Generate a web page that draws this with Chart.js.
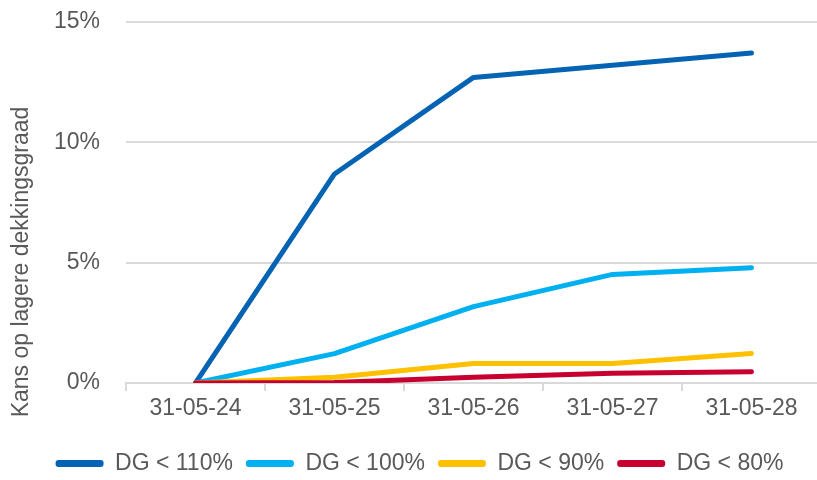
<!DOCTYPE html>
<html lang="nl">
  <head>
    <meta charset="UTF-8" />
    <title>Kans op lagere dekkingsgraad</title>
    <style>
      html, body {
        margin: 0;
        padding: 0;
        background: #fff;
        overflow: hidden;
      }
      .chart-container {
        position: relative;
        width: 822px;
        height: 480px;
      }
    </style>
    <script src="https://cdn.jsdelivr.net/npm/chart.js"></script>
  </head>
  <body>
    <div class="chart-container">
      <canvas id="chart"></canvas>
    </div>

    <script>
      // values in %
      const dates = ["31-05-24", "31-05-25", "31-05-26", "31-05-27", "31-05-28"];
      const dg110 = [0, 8.68, 12.69, 13.2, 13.7];
      const dg100 = [0, 1.22, 3.17, 4.51, 4.79];
      const dg90 = [0, 0.24, 0.81, 0.81, 1.23];
      const dg80 = [0, 0.02, 0.24, 0.41, 0.47];
      const yTicks = [0, 5, 10, 15];

      const textColor = "#595959";
      const gridColor = "#d9d9d9";
      const font = "'Liberation Sans', Arial, sans-serif";

      function series(label, data, color, order) {
        return {
          label,
          data,
          borderColor: color,
          backgroundColor: color,
          borderWidth: 5,
          pointRadius: 0,
          tension: 0,
          borderCapStyle: "round",
          borderJoinStyle: "round",
          order,
        };
      }

      // y axis title drawn by hand, Excel puts it a bit below the middle
      const yTitle = {
        id: "yTitle",
        afterDraw(chart) {
          const ctx = chart.ctx;
          ctx.save();
          ctx.translate(22, 262);
          ctx.rotate(-Math.PI / 2);
          ctx.font = "23px " + font;
          ctx.fillStyle = textColor;
          ctx.textAlign = "center";
          ctx.textBaseline = "middle";
          ctx.fillText("Kans op lagere dekkingsgraad", 0, 0);
          ctx.restore();
        },
      };

      new Chart(document.getElementById("chart"), {
        type: "line",
        data: {
          labels: dates,
          datasets: [
            series("DG < 110%", dg110, "#0563B4", 3),
            series("DG < 100%", dg100, "#00B0F0", 2),
            series("DG < 90%", dg90, "#FFC000", 1),
            series("DG < 80%", dg80, "#C8002F", 0),
          ],
        },
        plugins: [yTitle],
        options: {
          responsive: true,
          maintainAspectRatio: false,
          animation: false,
          layout: { padding: { top: 0, right: 1, left: 18, bottom: -5 } },
          plugins: {
            tooltip: { enabled: false },
            legend: {
              position: "bottom",
              labels: {
                boxWidth: 48,
                boxHeight: 7,
                useBorderRadius: true,
                borderRadius: 3,
                padding: 13,
                color: textColor,
                font: { family: font, size: 23 },
                sort: (a, b) => a.datasetIndex - b.datasetIndex,
                generateLabels: (chart) =>
                  Chart.defaults.plugins.legend.labels
                    .generateLabels(chart)
                    .map((l) => ({ ...l, lineWidth: 0 })),
              },
            },
          },
          scales: {
            x: {
              offset: true,
              grid: {
                offset: true,
                drawOnChartArea: false,
                drawTicks: true,
                tickLength: 8,
                color: gridColor,
                lineWidth: 2,
              },
              border: { color: gridColor, width: 2 },
              ticks: {
                color: textColor,
                font: { family: font, size: 23 },
                padding: 4,
                maxRotation: 0,
              },
              afterFit: (scale) => {
                scale.height = 56;
              },
            },
            y: {
              min: 0,
              max: 15,
              afterBuildTicks: (scale) => {
                scale.ticks = yTicks.map((v) => ({ value: v }));
              },
              grid: {
                color: gridColor,
                lineWidth: 2,
                drawTicks: true,
                tickLength: 18,
                tickColor: "rgba(0,0,0,0)",
              },
              border: { display: false },
              ticks: {
                color: textColor,
                font: { family: font, size: 23 },
                padding: 8,
                callback: (v) => v + "%",
              },
              afterFit: (scale) => {
                scale.width = 108;
              },
            },
          },
        },
      });
    </script>
  </body>
</html>
